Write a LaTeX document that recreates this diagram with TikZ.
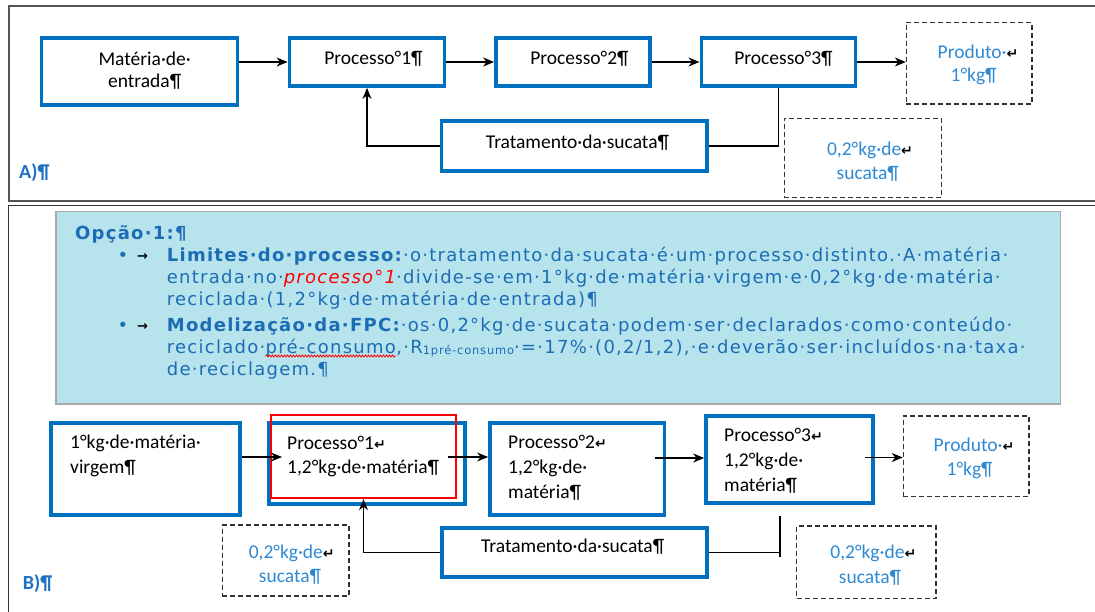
\documentclass[tikz,border=0pt]{standalone}
\usepackage{fontspec}
\usepackage{graphicx}
\setmainfont{Carlito}
\newfontfamily\notefont{DejaVu Sans}[LetterSpace=7]
\newfontfamily\marksfont{DejaVu Sans}
\usetikzlibrary{arrows.meta,decorations.pathmorphing}

\definecolor{boxblue}{RGB}{0,112,192}
\definecolor{lblblue}{RGB}{47,137,210}
\definecolor{noteblue}{RGB}{28,108,182}
\definecolor{notefill}{RGB}{183,228,236}
\definecolor{noteedge}{RGB}{170,170,170}
\definecolor{framegray}{RGB}{85,85,85}
\definecolor{tagblue}{RGB}{30,112,195}

% Word-style line-break mark
\newcommand\lbrk{{\color{black}\marksfont\bfseries\fontsize{14}{14}\selectfont ↵}}

\tikzset{
  procbox/.style={draw=boxblue, line width=3.8pt, inner sep=0pt, rectangle},
  outbox/.style={draw=black!80, line width=1.2pt, dash pattern=on 5pt off 3pt, inner sep=0pt, rectangle},
  flow/.style={draw=black, line width=1.2pt, -{Stealth[length=11pt,width=9pt,inset=3.5pt]}},
  link/.style={draw=black, line width=1.2pt},
  dtext/.style={inner sep=0pt, anchor=base, font=\fontsize{19.5}{24}\selectfont},
  dtextl/.style={dtext, anchor=base west},
  otext/.style={dtext, text=lblblue},
  ntext/.style={inner sep=0pt, anchor=base west, text=noteblue, font=\notefont\fontsize{18}{22}\selectfont},
  tabmark/.style={inner sep=0pt, anchor=base west, font=\marksfont\bfseries\fontsize{13}{13}\selectfont},
  tag/.style={inner sep=0pt, anchor=base west, text=tagblue, font=\bfseries\fontsize{20}{24}\selectfont}
}

\begin{document}
\begin{tikzpicture}[x=1pt, y=-1pt]
\useasboundingbox (0,0) rectangle (1095,611);

% ---------- panel frames ----------
\draw[framegray, line width=2pt] (1100,5.5) -- (8.5,5.5) -- (8.5,200.5) -- (1100,200.5);
\draw[black!80, line width=1.8pt] (1100,205.5) -- (8.5,205.5) -- (8.5,620);

% ================= A) =================
\node[procbox, minimum width=196pt, minimum height=67pt] (mat) at (139.5,71.5) {};
\node[procbox, minimum width=155pt, minimum height=48pt] (p1a) at (367,62) {};
\node[procbox, minimum width=154pt, minimum height=48pt] (p2a) at (573,62) {};
\node[procbox, minimum width=154pt, minimum height=48pt] (p3a) at (778.4,62) {};
\node[outbox, minimum width=125.6pt, minimum height=81.7pt] (proda) at (969.2,63.2) {};
\node[procbox, minimum width=265.7pt, minimum height=49.4pt] (trata) at (574.4,146) {};
\node[outbox, minimum width=157.6pt, minimum height=79pt] (scrapa) at (863,157.8) {};

\draw[flow] (mat.east |- p1a.west) -- (p1a.west);
\draw[flow] (p1a.east) -- (p2a.west);
\draw[flow] (p2a.east) -- (p3a.west);
\draw[flow] (p3a.east) -- (proda.west |- p3a.east);
\draw[link] (p3a.south) |- (trata.east);
\draw[flow] (trata.west) -| (p1a.south);

\node[dtext] (matt1) at (144.7,65) {Matéria·de·};
\node[dtext] (matt2) at (144.7,87.3) {entrada¶};
\node[dtext] (p1at) at (373.5,64) {Processo°1¶};
\node[dtext] (p2at) at (579.5,64) {Processo°2¶};
\node[dtext] (p3at) at (783.5,64) {Processo°3¶};
\node[otext] (prodat1) at (978,58.3) {Produto·\lbrk};
\node[otext] (prodat2) at (973.6,81.7) {1°kg¶};
\node[dtext] (tratat) at (577.5,148) {Tratamento·da·sucata¶};
\node[otext] (scrapat1) at (870,155) {0,2°kg·de\lbrk};
\node[otext] (scrapat2) at (867.8,179) {sucata¶};
\node[tag] (tagA) at (19,178) {A)¶};

% ================= B) =================
\node[draw=noteedge, fill=notefill, line width=1.5pt, inner sep=0pt,
      minimum width=1004.5pt, minimum height=192.5pt] (note) at (558,307.5) {};

\node[ntext] (n0) at (75,239) {\textbf{Opção·1:¶}};
\node[ntext, anchor=base] (bul1) at (123,261) {•};
\node[tabmark] (tab1) at (137,260) {→};
\node[ntext] (n1) at (166.7,261) {\textbf{Limites·do·processo:}·o·tratamento·da·sucata·é·um·processo·distinto.·A·matéria·};
\node[ntext] (n2) at (166.7,283) {entrada·no·{\color{red}\itshape processo°1}·divide-se·em·1°kg·de·matéria·virgem·e·0,2°kg·de·matéria·};
\node[ntext] (n3) at (166.7,305) {reciclada·(1,2°kg·de·matéria·de·entrada)¶};
\node[ntext, anchor=base] (bul2) at (123,331) {•};
\node[tabmark] (tab2) at (137,330) {→};
\node[ntext] (n4) at (166.7,331) {\textbf{Modelização·da·FPC:}·os·0,2°kg·de·sucata·podem·ser·declarados·como·conteúdo·};
\node[ntext] (n5a) at (166.7,353) {reciclado·};
\node[ntext] (n5b) at (n5a.base east) {pré-consumo};
\node[ntext] (n5c) at (n5b.base east) {,·R\raisebox{-1.5pt}{\fontsize{11.5}{10}\selectfont 1pré-consumo}·=·17\%·(0,2/1,2),·e·deverão·ser·incluídos·na·taxa·};
\node[ntext] (n6) at (166.7,375) {de·reciclagem.¶};
\draw[red, line width=0.8pt, decorate, decoration={snake, amplitude=1pt, segment length=3pt}]
  ([yshift=-3pt]n5b.base west) -- ([yshift=-3pt]n5b.base east);

\node[procbox, minimum width=189pt, minimum height=92pt] (virg) at (145.5,469) {};
\node[procbox, minimum width=196pt, minimum height=81pt] (p1b) at (367,463.5) {};
\node[procbox, minimum width=174.5pt, minimum height=92.6pt] (p2b) at (577.3,469) {};
\node[procbox, minimum width=167.3pt, minimum height=86.7pt] (p3b) at (789.7,459.7) {};
\node[outbox, minimum width=125.7pt, minimum height=80.7pt] (prodb) at (966.2,456.4) {};
\node[procbox, minimum width=265pt, minimum height=49.3pt] (tratb) at (574.5,552.7) {};
\node[outbox, minimum width=126.7pt, minimum height=71pt] (scrapl) at (285.7,560.5) {};
\node[outbox, minimum width=139.3pt, minimum height=72.3pt] (scrapr) at (866.4,562.2) {};
\node[draw=red, line width=2.4pt, inner sep=0pt, minimum width=185pt, minimum height=83pt] (focus) at (363.5,456.5) {};

\coordinate (p1entry) at (282,457);
\coordinate (p1exit) at (448,457);
\coordinate (p2exit) at (655,458);
\coordinate (p3exit) at (865,457.5);
\coordinate (scrapstub) at (780,515.5);
\coordinate (scrapfoot) at (780,557);

\draw[flow] (virg.east |- p1entry) -- (p1entry);
\draw[flow] (p1exit) -- (p2b.west |- p1exit);
\draw[flow] (p2exit) -- (p3b.west |- p2exit);
\draw[flow] (p3exit) -- (prodb.west |- p3exit);
\draw[flow] (tratb.west) -| (focus.south);
\draw[link] (scrapstub) -- (scrapfoot);
\draw[link] (tratb.east) -- (tratb.east -| scrapstub);

\node[dtextl] (virgt1) at (70,448) {1°kg·de·matéria·};
\node[dtextl] (virgt2) at (70,473) {virgem¶};
\node[dtextl] (p1bt1) at (287,449) {Processo°1\lbrk};
\node[dtextl] (p1bt2) at (287,473) {1,2°kg·de·matéria¶};
\node[dtextl] (p2bt1) at (508,448) {Processo°2\lbrk};
\node[dtextl] (p2bt2) at (508,473) {1,2°kg·de·};
\node[dtextl] (p2bt3) at (508,498) {matéria¶};
\node[dtextl] (p3bt1) at (724,441.7) {Processo°3\lbrk};
\node[dtextl] (p3bt2) at (724,466.5) {1,2°kg·de·};
\node[dtextl] (p3bt3) at (724,491.7) {matéria¶};
\node[otext] (prodbt1) at (974,451.7) {Produto·\lbrk};
\node[otext] (prodbt2) at (969.6,475.5) {1°kg¶};
\node[dtextl] (tratbt) at (481,552) {Tratamento·da·sucata¶};
\node[otext] (scraplt1) at (291.7,558.3) {0,2°kg·de\lbrk};
\node[otext] (scraplt2) at (290,582.7) {sucata¶};
\node[otext] (scraprt1) at (873.3,558.3) {0,2°kg·de\lbrk};
\node[otext] (scraprt2) at (870,583) {sucata¶};
\node[tag] (tagB) at (22.7,589) {B)¶};

\end{tikzpicture}
\end{document}
